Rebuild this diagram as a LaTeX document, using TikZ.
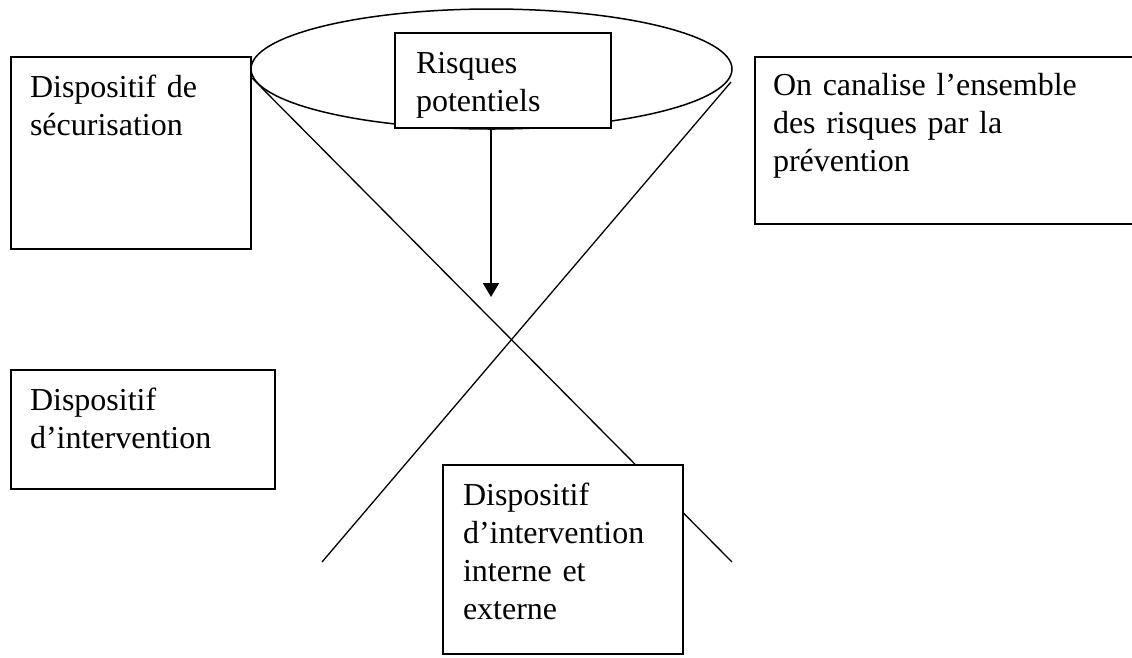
\documentclass[tikz,border=0pt]{standalone}
\usepackage{fontspec}
\setmainfont{Liberation Serif}
\usetikzlibrary{arrows.meta,calc,shapes.geometric}
\tikzset{
  boxshape/.style={draw=black, fill=white, line width=1.5pt, rectangle, inner sep=0pt, outer sep=0pt, anchor=north west},
  boxtext/.style={anchor=base west, inner sep=0pt, outer sep=0pt, text width=360pt, align=left, font=\fontsize{32}{38}\selectfont},
  diag/.style={draw=black, line width=1.3pt},
  arr/.style={draw=black, line width=2pt, -{Triangle[width=16pt,length=14pt]}},
}
\begin{document}
\begin{tikzpicture}[x=1pt,y=-1pt]
\useasboundingbox (0,0) rectangle (1132,657);
\clip (0,0) rectangle (1132,657);
\fill[white] (0,0) rectangle (1132,657);
% bowl
\node[draw=black, line width=1.5pt, ellipse, minimum width=481pt, minimum height=120pt, inner sep=0pt, outer sep=0pt] (bowl) at (491.5,69) {};
% crossing lines
\coordinate (l1a) at (252,78);
\coordinate (l1b) at (732,562);
\coordinate (l2a) at (731,82);
\coordinate (l2b) at (322,562);
\draw[diag] (l1a) -- (l1b);
\draw[diag] (l2a) -- (l2b);
% boxes
\node[boxshape, minimum width=240pt, minimum height=192pt] (sec) at (11,57) {};
\node[boxtext] (sect) at ($(sec.north west)+(19,40)$) {Dispositif de\\sécurisation};
\node[boxshape, minimum width=216pt, minimum height=95pt] (risk) at (395,33) {};
\node[boxtext] (riskt) at ($(risk.north west)+(21,40)$) {Risques\\potentiels};
\node[boxshape, minimum width=390pt, minimum height=167pt] (prev) at (755,57) {};
\node[boxtext] (prevt) at ($(prev.north west)+(18,38)$) {On canalise l’ensemble\\des risques par la\\prévention};
\node[boxshape, minimum width=264pt, minimum height=119pt] (inter) at (11,370) {};
\node[boxtext] (intert) at ($(inter.north west)+(19,40)$) {Dispositif\\d’intervention};
\node[boxshape, minimum width=240pt, minimum height=189pt] (ie) at (443,465) {};
\node[boxtext] (iet) at ($(ie.north west)+(20,40)$) {Dispositif\\d’intervention\\interne et\\externe};
% arrow
\coordinate (arrowend) at (491,297);
\draw[arr] ($(risk.south west)+(96,0)$) -- (arrowend);
\end{tikzpicture}
\end{document}
